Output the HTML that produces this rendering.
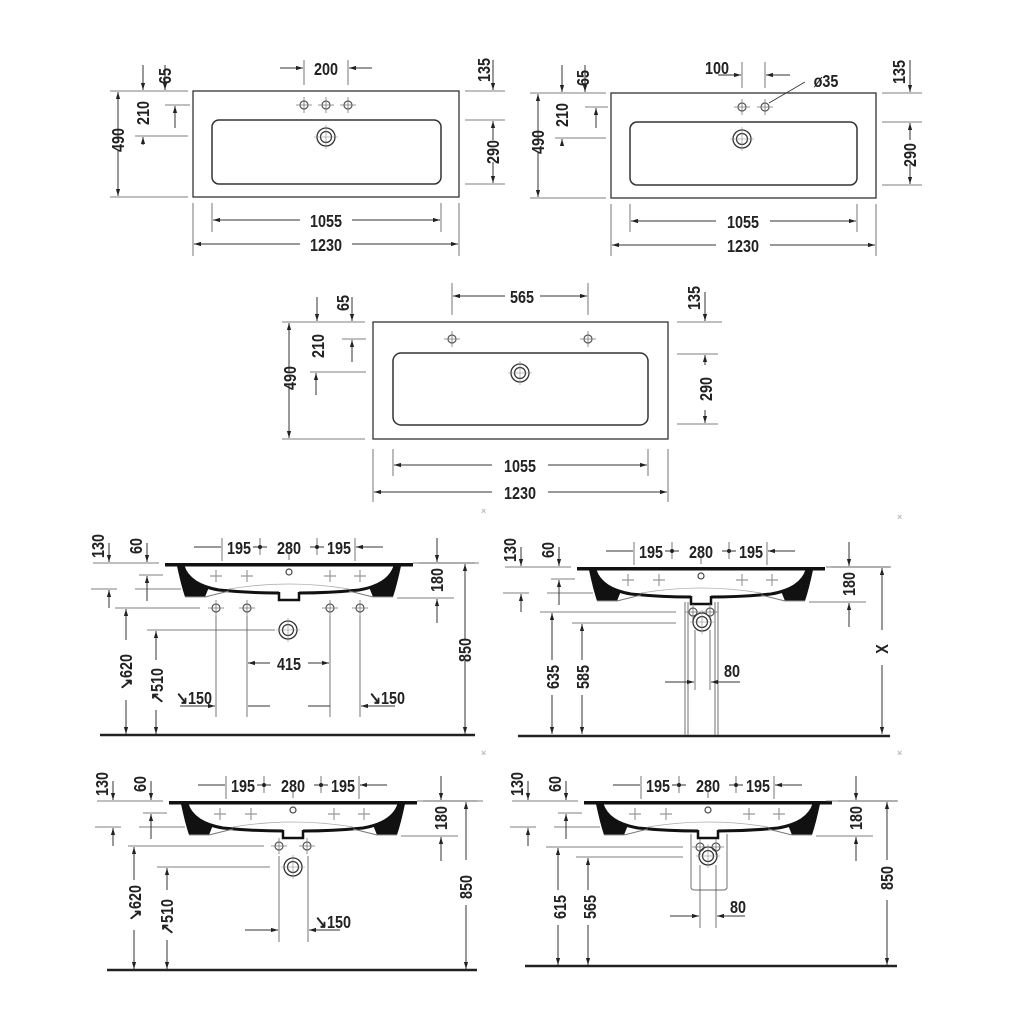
<!DOCTYPE html>
<html><head><meta charset="utf-8"><style>
html,body{margin:0;padding:0;background:#fff}
svg{display:block}
text{font-family:"Liberation Sans Narrow","Liberation Sans",sans-serif;font-weight:bold;font-size:18px;fill:#222;transform-box:fill-box;transform-origin:center;transform:scaleX(0.8)}
text.x{font-size:9px;fill:#bbb;transform:none}
</style></head><body>
<svg width="1024" height="1024" viewBox="0 0 1024 1024" xmlns="http://www.w3.org/2000/svg">
<defs>
<marker id="a" viewBox="0 0 10 10" refX="10" refY="5" markerWidth="7" markerHeight="7" orient="auto-start-reverse"><path d="M0,2 L10,5 L0,8z" fill="#222"/></marker>
<g id="hole"><circle r="4" fill="none" stroke="#555" stroke-width="1.2"/><path d="M-8,0H8M0,-8V8" stroke="#777" stroke-width="0.8"/></g>
<g id="drain"><circle r="9" fill="none" stroke="#333" stroke-width="1.3"/><circle r="5.5" fill="none" stroke="#333" stroke-width="1.2"/><path d="M-12,0H12M0,-12V12" stroke="#888" stroke-width="0.6"/></g>
<g id="plus"><path d="M-6,0H6M0,-6V6" stroke="#999" stroke-width="1.2"/></g>
<g id="sink">
<rect x="-124" y="0" width="248" height="3.5" fill="#111"/>
<path d="M-112,3 Q-108,22 -104,34 L-84,34 L-80,24 Q-100,18 -106,3Z" fill="#111"/>
<path d="M112,3 Q108,22 104,34 L84,34 L80,24 Q100,18 106,3Z" fill="#111"/>
<path d="M-106,3 Q-100,22 -70,27 Q-40,30 -10,30 M106,3 Q100,22 70,27 Q40,30 10,30" fill="none" stroke="#111" stroke-width="3"/>
<path d="M-84,34 L-60,28 M84,34 L60,28" stroke="#777" stroke-width="1"/>
<path d="M-60,26 Q0,16 60,26" fill="none" stroke="#aaa" stroke-width="0.8"/>
<path d="M-104,34 H-84 M84,34 H104" stroke="#999" stroke-width="1"/>
<path d="M-10,29 V37 H10 V29" fill="none" stroke="#111" stroke-width="2.5"/>
<circle cx="0" cy="9" r="3" fill="none" stroke="#444" stroke-width="1.2"/>
<use href="#plus" x="-73" y="13"/><use href="#plus" x="-42" y="13"/><use href="#plus" x="41" y="13"/><use href="#plus" x="71" y="13"/>
<path d="M-67,-25 V-2 M-29,-25 V-8 M28,-25 V-8 M66,-25 V-2 M0,-10 V-3" stroke="#555" stroke-width="0.8"/>
<path d="M-95,-16 H-68 M94,-16 H67" stroke="#333" stroke-width="1" marker-end="url(#a)"/>
<path d="M-36,-16 H-22 M21,-16 H35" stroke="#333" stroke-width="1"/>
<circle cx="-29" cy="-16" r="2" fill="#222"/><circle cx="28" cy="-16" r="2" fill="#222"/>
<text x="-50" y="-9" text-anchor="middle">195</text><text x="0" y="-9" text-anchor="middle">280</text><text x="50" y="-9" text-anchor="middle">195</text>
<path d="M-196,0 H-130 M-150,12 H-126 M-198,26 H-172 M-154,26 H-108" stroke="#555" stroke-width="0.8"/>
<path d="M-180,-20 V-1" stroke="#333" stroke-width="1" marker-end="url(#a)"/>
<path d="M-142,-20 V-1" stroke="#333" stroke-width="1" marker-end="url(#a)"/>
<path d="M-142,38 V13" stroke="#333" stroke-width="1" marker-end="url(#a)"/>
<path d="M-180,45 V27" stroke="#333" stroke-width="1" marker-end="url(#a)"/>
<g transform="translate(-185,-17) rotate(-90)"><text text-anchor="middle">130</text></g>
<g transform="translate(-147,-17) rotate(-90)"><text text-anchor="middle">60</text></g>
<path d="M130,0 H190 M108,35 H165" stroke="#555" stroke-width="0.8"/>
<path d="M148,-25 V-1" stroke="#333" stroke-width="1" marker-end="url(#a)"/>
<path d="M148,60 V36" stroke="#333" stroke-width="1" marker-end="url(#a)"/>
<g transform="translate(154,17) rotate(-90)"><text text-anchor="middle">180</text></g>
</g>
</defs>

<!-- Plan A -->
<g stroke="#333" fill="none">
<rect x="193" y="91" width="266" height="106" stroke-width="1.3"/>
<rect x="212" y="120" width="229" height="64" rx="7" stroke-width="1.5"/>
</g>
<use href="#hole" x="304" y="105"/><use href="#hole" x="326" y="105"/><use href="#hole" x="348" y="105"/>
<use href="#drain" x="326" y="137"/>
<g stroke="#555" stroke-width="0.8">
<path d="M110,91 H188 M165,105 H190 M135,136 H188 M110,197 H188 M304,60 V85 M348,60 V85 M465,91 H505 M465,120 H505 M465,184 H505 M212,203 V232 M441,203 V232 M193,203 V256 M459,203 V256"/>
</g>
<g stroke="#333" stroke-width="1" marker-end="url(#a)">
<path d="M118,140 V92"/><path d="M118,150 V196"/>
<path d="M143,65 V90"/><path d="M165,65 V90"/>
<path d="M175,128 V106"/><path d="M143,145 V137"/>
<path d="M280,68 H303"/><path d="M372,68 H349"/>
<path d="M493,60 V90"/><path d="M493,140 V121"/><path d="M493,162 V183"/>
<path d="M300,220 H213"/><path d="M352,220 H440"/>
<path d="M300,244 H194"/><path d="M352,244 H458"/>
</g>
<g transform="translate(124,140) rotate(-90)"><text text-anchor="middle">490</text></g>
<g transform="translate(149,113) rotate(-90)"><text text-anchor="middle">210</text></g>
<g transform="translate(171,76) rotate(-90)"><text text-anchor="middle">65</text></g>
<g transform="translate(490,70) rotate(-90)"><text text-anchor="middle">135</text></g>
<g transform="translate(499,152) rotate(-90)"><text text-anchor="middle">290</text></g>
<text x="326" y="75" text-anchor="middle">200</text>
<text x="326" y="227" text-anchor="middle">1055</text>
<text x="326" y="251" text-anchor="middle">1230</text>

<!-- Plan B -->
<g stroke="#333" fill="none">
<rect x="611" y="93" width="265" height="105" stroke-width="1.3"/>
<rect x="630" y="122" width="227" height="63" rx="7" stroke-width="1.5"/>
</g>
<use href="#hole" x="742" y="107"/><use href="#hole" x="765" y="107"/>
<use href="#drain" x="742" y="139"/>
<path d="M769,103 L805,82" stroke="#333" stroke-width="0.8"/>
<g stroke="#555" stroke-width="0.8">
<path d="M530,93 H606 M585,107 H608 M555,138 H606 M530,198 H606 M742,62 V88 M765,62 V88 M882,93 H922 M882,122 H922 M882,185 H922 M630,204 V232 M857,204 V232 M611,204 V256 M876,204 V256"/>
</g>
<g stroke="#333" stroke-width="1" marker-end="url(#a)">
<path d="M538,142 V94"/><path d="M538,152 V197"/>
<path d="M562,65 V92"/><path d="M585,65 V92"/>
<path d="M596,128 V108"/><path d="M562,146 V139"/>
<path d="M718,75 H741"/><path d="M790,75 H766"/>
<path d="M910,60 V92"/><path d="M910,140 V123"/><path d="M910,164 V184"/>
<path d="M716,221 H631"/><path d="M770,221 H856"/>
<path d="M716,245 H612"/><path d="M770,245 H875"/>
</g>
<g transform="translate(544,142) rotate(-90)"><text text-anchor="middle">490</text></g>
<g transform="translate(568,115) rotate(-90)"><text text-anchor="middle">210</text></g>
<g transform="translate(589,78) rotate(-90)"><text text-anchor="middle">65</text></g>
<g transform="translate(905,72) rotate(-90)"><text text-anchor="middle">135</text></g>
<g transform="translate(916,155) rotate(-90)"><text text-anchor="middle">290</text></g>
<text x="717" y="74" text-anchor="middle">100</text>
<text x="826" y="87" text-anchor="middle">ø35</text>
<text x="743" y="228" text-anchor="middle">1055</text>
<text x="743" y="252" text-anchor="middle">1230</text>

<!-- Plan C -->
<g stroke="#333" fill="none">
<rect x="373" y="322" width="295" height="117" stroke-width="1.3"/>
<rect x="393" y="353" width="255" height="72" rx="8" stroke-width="1.5"/>
</g>
<use href="#hole" x="452" y="339"/><use href="#hole" x="588" y="339"/>
<use href="#drain" x="520" y="373"/>
<g stroke="#555" stroke-width="0.8">
<path d="M282,322 H365 M342,339 H366 M310,372 H366 M282,439 H365 M452,283 V315 M588,283 V315 M677,322 H722 M677,354 H718 M677,424 H718 M393,449 V476 M648,449 V476 M373,449 V502 M668,449 V502"/>
</g>
<g stroke="#333" stroke-width="1" marker-end="url(#a)">
<path d="M289,372 V323"/><path d="M289,385 V438"/>
<path d="M317,297 V321"/><path d="M352,297 V321"/>
<path d="M352,362 V340"/><path d="M316,395 V373"/>
<path d="M505,296 H453"/><path d="M540,296 H587"/>
<path d="M705,292 V321"/><path d="M705,365 V355"/><path d="M705,410 V423"/>
<path d="M492,465 H394"/><path d="M548,465 H647"/>
<path d="M492,492 H374"/><path d="M548,492 H667"/>
</g>
<g transform="translate(296,378) rotate(-90)"><text text-anchor="middle">490</text></g>
<g transform="translate(324,346) rotate(-90)"><text text-anchor="middle">210</text></g>
<g transform="translate(349,303) rotate(-90)"><text text-anchor="middle">65</text></g>
<g transform="translate(700,298) rotate(-90)"><text text-anchor="middle">135</text></g>
<g transform="translate(712,389) rotate(-90)"><text text-anchor="middle">290</text></g>
<text x="522" y="303" text-anchor="middle">565</text>
<text x="520" y="472" text-anchor="middle">1055</text>
<text x="520" y="499" text-anchor="middle">1230</text>

<!-- Side D -->
<use href="#sink" x="289" y="563"/>
<path d="M100,735 H475" stroke="#222" stroke-width="2.5"/>
<use href="#hole" x="216" y="608"/><use href="#hole" x="247" y="608"/><use href="#hole" x="330" y="608"/><use href="#hole" x="360" y="608"/>
<use href="#drain" x="288" y="630"/>
<g stroke="#555" stroke-width="0.8">
<path d="M115,608 H200 M147,630 H275 M413,563 H475 M216,616 V717 M247,616 V717 M330,616 V717 M360,616 V717"/>
</g>
<g stroke="#333" stroke-width="1" marker-end="url(#a)">
<path d="M126,640 V609"/><path d="M126,700 V734"/>
<path d="M156,660 V631"/><path d="M156,710 V734"/>
<path d="M465,640 V564"/><path d="M465,660 V734"/>
<path d="M270,663 H248"/><path d="M308,663 H329"/>
<path d="M180,706 H215"/><path d="M395,706 H361"/>
<path d="M248,706 H270 M308,706 H330" marker-end="none"/>
</g>
<g transform="translate(132,672) rotate(-90)"><text text-anchor="middle">↘620</text></g>
<g transform="translate(163,686) rotate(-90)"><text text-anchor="middle">↗510</text></g>
<g transform="translate(471,650) rotate(-90)"><text text-anchor="middle">850</text></g>
<text x="289" y="670" text-anchor="middle">415</text>
<text x="194" y="704" text-anchor="middle">↘150</text>
<text x="387" y="704" text-anchor="middle">↘150</text>

<!-- Side E -->
<use href="#sink" x="701" y="567"/>
<path d="M518,736 H890" stroke="#222" stroke-width="2.5"/>
<g stroke="#888" stroke-width="1.2" fill="none">
<path d="M685,602 V735 M688,602 V735 M715,602 V735 M718,602 V735"/>
</g>
<use href="#hole" x="693" y="612"/><use href="#hole" x="710" y="612"/><use href="#drain" x="702" y="622"/>
<g stroke="#555" stroke-width="0.8">
<path d="M540,612 H676 M572,623 H676 M826,567 H890 M695,630 V690 M710,630 V690"/>
</g>
<g stroke="#333" stroke-width="1" marker-end="url(#a)">
<path d="M552,660 V613"/><path d="M552,695 V734"/>
<path d="M582,660 V624"/><path d="M582,695 V734"/>
<path d="M882,630 V568"/><path d="M882,665 V734"/>
<path d="M665,682 H694"/><path d="M740,682 H711"/>
</g>
<g transform="translate(559,677) rotate(-90)"><text text-anchor="middle">635</text></g>
<g transform="translate(589,677) rotate(-90)"><text text-anchor="middle">585</text></g>
<g transform="translate(888,649) rotate(-90)"><text text-anchor="middle">X</text></g>
<text x="732" y="677" text-anchor="middle">80</text>

<!-- Side F -->
<use href="#sink" x="293" y="801"/>
<path d="M107,970 H477" stroke="#222" stroke-width="2.5"/>
<use href="#hole" x="279" y="846"/><use href="#hole" x="307" y="846"/><use href="#drain" x="293" y="867"/>
<g stroke="#555" stroke-width="0.8">
<path d="M128,846 H264 M157,867 H270 M417,801 H477 M279,856 V942 M308,856 V942"/>
</g>
<g stroke="#333" stroke-width="1" marker-end="url(#a)">
<path d="M134,880 V847"/><path d="M134,930 V969"/>
<path d="M167,890 V868"/><path d="M167,940 V969"/>
<path d="M466,860 V802"/><path d="M466,905 V969"/>
<path d="M245,930 H278"/><path d="M340,930 H309"/>
</g>
<g transform="translate(141,903) rotate(-90)"><text text-anchor="middle">↘620</text></g>
<g transform="translate(173,917) rotate(-90)"><text text-anchor="middle">↗510</text></g>
<g transform="translate(472,887) rotate(-90)"><text text-anchor="middle">850</text></g>
<text x="333" y="928" text-anchor="middle">↘150</text>

<!-- Side G -->
<use href="#sink" x="708" y="801"/>
<path d="M525,966 H897" stroke="#222" stroke-width="2.5"/>
<path d="M691,834 V887 Q691,890 695,890 H723 Q727,890 727,887 V834" fill="none" stroke="#888" stroke-width="1.2"/>
<use href="#hole" x="700" y="847"/><use href="#hole" x="716" y="847"/><use href="#drain" x="708" y="856"/>
<g stroke="#555" stroke-width="0.8">
<path d="M546,847 H683 M576,857 H683 M826,801 H897 M700,865 V928 M716,865 V928"/>
</g>
<g stroke="#333" stroke-width="1" marker-end="url(#a)">
<path d="M558,890 V848"/><path d="M558,925 V965"/>
<path d="M588,890 V858"/><path d="M588,925 V965"/>
<path d="M887,860 V802"/><path d="M887,900 V965"/>
<path d="M670,916 H699"/><path d="M745,916 H717"/>
</g>
<g transform="translate(566,907) rotate(-90)"><text text-anchor="middle">615</text></g>
<g transform="translate(596,907) rotate(-90)"><text text-anchor="middle">565</text></g>
<g transform="translate(893,878) rotate(-90)"><text text-anchor="middle">850</text></g>
<text x="738" y="913" text-anchor="middle">80</text>

<text class="x" x="481" y="514">×</text><text class="x" x="897" y="520">×</text><text class="x" x="481" y="756">×</text><text class="x" x="897" y="756">×</text>
</svg>
</body></html>
